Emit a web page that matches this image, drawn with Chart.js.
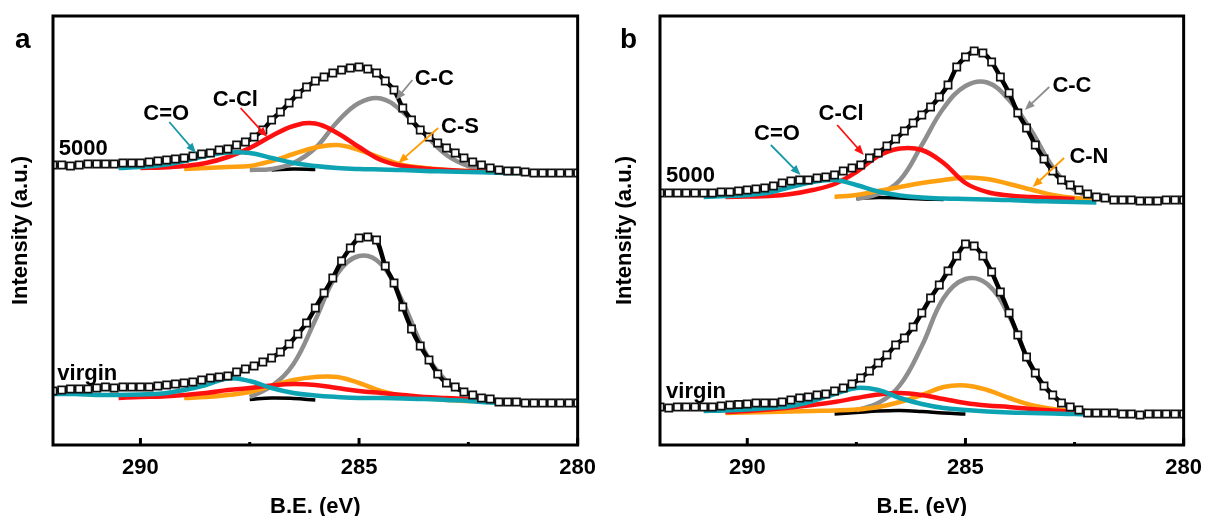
<!DOCTYPE html>
<html>
<head>
<meta charset="utf-8">
<script src="https://cdn.jsdelivr.net/npm/chart.js@4.4.1/dist/chart.umd.min.js"></script>
<style>
  html, body { margin: 0; padding: 0; background: #fff; }
  #wrap { position: relative; width: 1212px; height: 516px; }
  .panel { position: absolute; top: 0; width: 606px; height: 516px; }
</style>
</head>
<body>
<div id="wrap">
  <div class="panel" style="left:0"><canvas id="chart-a"></canvas></div>
  <div class="panel" style="left:606px"><canvas id="chart-b"></canvas></div>
</div>
<script>
// binding energy of the measured points (eV)
const energy = [292.0, 291.8, 291.6, 291.4, 291.2, 291.0, 290.8, 290.6, 290.4, 290.2,
  290.0, 289.8, 289.6, 289.4, 289.2, 289.0, 288.8, 288.6, 288.4, 288.2,
  288.0, 287.8, 287.6, 287.4, 287.2, 287.0, 286.8, 286.6, 286.4, 286.2,
  286.0, 285.8, 285.6, 285.4, 285.2, 285.0, 284.8, 284.6, 284.4, 284.2,
  284.0, 283.8, 283.6, 283.4, 283.2, 283.0, 282.8, 282.6, 282.4, 282.2,
  282.0, 281.8, 281.6, 281.4, 281.2, 281.0, 280.8, 280.6, 280.4, 280.2, 280.0]

// energy grid of the fitted components (eV)
const compEnergy = [292, 291.5, 291, 290.5, 290, 289.5, 289, 288.5, 288, 287.5,
  287, 286.5, 286, 285.5, 285, 284.5, 284, 283.5, 283, 282.5,
  282, 281.5, 281, 280.5, 280]

const xTickValues = [290, 285, 280]
const xMinorTicks = [287.5, 282.5]

// panel a, 5000 cycles (offset intensity, a.u.)
const a5000Data = [280, 280, 279, 280, 281, 281, 281, 281, 282, 282,
  282, 283, 284, 285, 286, 287, 289, 291, 292, 295,
  296, 300, 303, 308, 315, 325, 333, 342, 351, 358,
  364, 368, 372, 375, 377, 378, 376, 372, 364, 355,
  337, 325, 315, 308, 302, 297, 292, 287, 283, 280,
  277, 275, 274, 274, 273, 272, 272, 272, 272, 272, 272]
const a5000CO = [null, null, null, 277, 278, 280, 284, 289, 292.5, 292, 287, 282, 279, 277, 276, 275.5, 275, 274, 273.5, 273, 272.5, 272, 272, null, null]
const a5000CCl = [null, null, null, null, 277, 277.5, 279, 282, 288, 297, 309, 319, 321.5, 312, 298, 285, 279, 276.5, 275, 274, 273, null, null, null, null]
const a5000CS = [null, null, null, null, null, null, 276, 277, 278, 279, 284, 291, 297.5, 300, 295, 287, 280, 277, 275, 274, 273, null, null, null, null]
const a5000CC = [null, null, null, null, null, null, null, null, null, 275, 276, 282, 297, 323, 342, 346.5, 333, 311, 290, 279, 275, 273, null, null, null]
const a5000Bg = [null, null, null, null, null, null, null, null, null, null, 275, 276, 275.5, null, null, null, null, null, null, null, null, null, null, null, null]

// panel a, virgin
const aVirginData = [54, 55, 56, 56, 56, 57, 58, 57, 58, 58,
  58, 58, 59, 60, 61, 62, 63, 65, 67, 68,
  69, 73, 76, 79, 83, 87, 93, 101, 111, 122,
  137, 152, 167, 184, 197, 207, 208, 205, 179, 162,
  138, 116, 99, 85, 71, 62, 58, 53, 50, 47,
  46, 43, 43, 43, 42, 42, 42, 42, 42, 42, 42]
const aVirginCO = [51, 51, 50, 50, 50.5, 51.5, 55, 60, 66.5, 64, 57, 52, 49.5, 48, 47, 47, 46.5, 46, 45, 44, 42.5, 42, null, null, null]
const aVirginCCl = [null, null, null, 47, 48, 48.5, 50, 52, 55, 57, 59.5, 61, 60, 57, 54, 52, 50, 48, 47, 46, 45, null, null, null, null]
const aVirginCS = [null, null, null, null, null, null, 47, 48, 50, 53, 59, 65, 68, 68, 62, 54, 49, 47, 45, 44, 43, null, null, null, null]
const aVirginCC = [null, null, null, null, null, null, null, null, null, 48, 59, 81, 125, 171, 189, 181, 143, 94, 64, 51, 46, 44, null, null, null]
const aVirginBg = [null, null, null, null, null, null, null, null, null, 45.5, 47, 46.5, 45, null, null, null, null, null, null, null, null, null, null, null, null]

// panel b, 5000 cycles
const b5000Data = [252, 252, 252, 252, 252, 252, 252, 253, 253, 254,
  255, 256, 257, 259, 262, 264, 265, 265, 267, 268,
  270, 274, 277, 280, 287, 292, 299, 306, 314, 322,
  330, 338, 348, 360, 378, 388, 394, 392, 383, 368,
  352, 332, 317, 300, 286, 274, 265, 260, 255, 251,
  248, 247, 245, 245, 245, 244, 244, 244, 245, 245, 245]
const b5000CO = [null, null, 248, 249, 250, 252.5, 258, 263, 265, 260, 253.5, 249.5, 247.5, 246.5, 246, 245.5, 245, 244, 243.5, 243, 242.5, null, null, null, null]
const b5000CCl = [null, null, null, 248, 248.5, 249, 251, 255, 261, 273, 289, 296.5, 295, 282, 262, 253, 249.5, 248, 247, 246, null, null, null, null, null]
const b5000CN = [null, null, null, null, null, null, null, null, 248, 250, 254, 258, 262, 265, 267.5, 266, 261, 255.5, 250, 247, 246, null, null, null, null]
const b5000CC = [null, null, null, null, null, null, null, null, null, 246, 251, 265, 300, 337, 359, 362.5, 345, 315, 278, 255, 247, 244, null, null, null]
const b5000Bg = [null, null, null, null, null, null, null, null, null, 246.5, 247.5, 247, 246, 245.5, null, null, null, null, null, null, null, null, null, null, null]

// panel b, virgin
const bVirginData = [38, 37, 38, 38, 38, 38, 38, 39, 40, 40.5,
  41, 42, 42, 42, 43, 45, 47, 48, 50, 51,
  54, 57, 61, 67, 74, 82, 90, 100, 107, 118,
  132, 147, 160, 174, 189, 201, 199, 189, 173, 153,
  132, 110, 88, 72, 59, 50, 42, 38, 35, 32,
  32, 32, 32, 31, 31, 30, 31, 31, 31, 31, 31]
const bVirginCO = [null, null, 34, 34.5, 35.5, 37, 39, 44, 51, 57, 55, 47, 41, 37, 35, 33.5, 32.5, 32, 31.5, 31, 30, null, null, null, null]
const bVirginCCl = [null, null, null, 33, 34, 35.5, 37.5, 40, 43, 47, 50.5, 52, 50, 46, 42, 39.5, 38, 36, 34.5, 33, null, null, null, null, null]
const bVirginCN = [null, null, null, 32, 32.5, 33, 33.5, 34, 34.5, 35.5, 38, 43, 50, 58, 59.5, 55, 47, 40, 36, 34, 33, null, null, null, null]
const bVirginCC = [null, null, null, null, null, null, null, null, null, 35, 42, 60, 99, 147, 166, 161, 129, 80, 50, 37, 33, 32, null, null, null]
const bVirginBg = [null, null, null, null, null, null, null, null, 31, 32.5, 34, 34.5, 33.5, 32, 31, null, null, null, null, null, null, null, null, null, null]

const FONT = "'Liberation Sans', Arial, sans-serif"
const TEAL = "#0ea3b3", RED = "#ff1010", ORANGE = "#ffa010", GRAY = "#8e8e8e"

function pairs(xs, ys) {
  return xs.map((x, i) => ({ x: x, y: ys[i] }))
}

function measured(ys) {
  return {
    data: pairs(energy, ys),
    showLine: false,
    pointStyle: "rect",
    pointRadius: 5.1,
    pointBorderWidth: 1.7,
    pointBorderColor: "#111",
    pointBackgroundColor: "#fff",
  }
}

function fitLine(ys) {
  return { data: pairs(energy, ys), borderColor: "#000", borderWidth: 4.5, pointRadius: 0, tension: 0.3 }
}

function comp(ys, color, width) {
  return { data: pairs(compEnergy, ys), borderColor: color, borderWidth: width || 4.5, pointRadius: 0, tension: 0.4 }
}

// one spectrum: points on top, then fit, then components
function spectrum(s) {
  return [
    measured(s.data),
    fitLine(s.data),
    comp(s.co, TEAL),
    comp(s.ccl, RED),
    comp(s.third, ORANGE),
    comp(s.cc, GRAY),
    comp(s.bg, "#000", 3.5),
  ]
}

function arrow(ctx, x1, y1, x2, y2, color) {
  const ang = Math.atan2(y2 - y1, x2 - x1)
  const head = 10, half = 4
  ctx.strokeStyle = color
  ctx.fillStyle = color
  ctx.lineWidth = 1.8
  ctx.beginPath()
  ctx.moveTo(x1, y1)
  ctx.lineTo(x2 - Math.cos(ang) * head * 0.7, y2 - Math.sin(ang) * head * 0.7)
  ctx.stroke()
  ctx.beginPath()
  ctx.moveTo(x2, y2)
  ctx.lineTo(x2 - head * Math.cos(ang) + half * Math.sin(ang), y2 - head * Math.sin(ang) - half * Math.cos(ang))
  ctx.lineTo(x2 - head * Math.cos(ang) - half * Math.sin(ang), y2 - head * Math.sin(ang) + half * Math.cos(ang))
  ctx.closePath()
  ctx.fill()
}

// frame, inward ticks, panel letter, sample names and peak labels
const decor = {
  id: "decor",
  afterDraw(chart, args, opts) {
    const { ctx, chartArea: a, scales: { x, y } } = chart
    ctx.save()
    ctx.strokeStyle = "#000"
    ctx.lineWidth = 3
    ctx.strokeRect(a.left, a.top, a.right - a.left, a.bottom - a.top)
    xTickValues.concat(xMinorTicks).forEach((v) => {
      const px = x.getPixelForValue(v)
      const len = xTickValues.includes(v) ? 7 : 3
      ctx.beginPath()
      ctx.moveTo(px, a.bottom)
      ctx.lineTo(px, a.bottom - len)
      ctx.stroke()
    })

    ctx.fillStyle = "#000"
    ctx.font = "bold 28px " + FONT
    ctx.textAlign = "left"
    ctx.textBaseline = "alphabetic"
    ctx.fillText(opts.letter, opts.letterX, 48)

    ctx.font = "bold 22px " + FONT
    opts.samples.forEach((s) => {
      ctx.fillStyle = "#000"
      ctx.textAlign = "left"
      ctx.fillText(s.text, x.getPixelForValue(s.at[0]), y.getPixelForValue(s.at[1]))
    })
    opts.notes.forEach((n) => {
      arrow(ctx, x.getPixelForValue(n.from[0]), y.getPixelForValue(n.from[1]),
        x.getPixelForValue(n.to[0]), y.getPixelForValue(n.to[1]), n.color)
      ctx.fillStyle = "#000"
      ctx.textAlign = "center"
      ctx.fillText(n.text, x.getPixelForValue(n.at[0]), y.getPixelForValue(n.at[1]))
    })
    ctx.restore()
  },
}

function makeChart(id, top, bottom, deco, yWidth, padRight, titlePad) {
  return new Chart(document.getElementById(id), {
    type: "line",
    data: { datasets: spectrum(top).concat(spectrum(bottom)) },
    options: {
      responsive: true,
      maintainAspectRatio: false,
      animation: false,
      layout: { padding: { top: 16, right: padRight, bottom: 0, left: 0 } },
      scales: {
        x: {
          type: "linear",
          reverse: true,
          min: 280,
          max: 292,
          afterBuildTicks: (s) => {
            s.ticks = xTickValues.map((v) => ({ value: v }))
          },
          afterFit: (s) => {
            s.height = 71
          },
          grid: { display: false, drawTicks: false },
          border: { display: false },
          ticks: { color: "#000", padding: 10, font: { family: FONT, size: 22, weight: "bold" } },
          title: {
            display: true,
            text: "B.E. (eV)",
            color: "#000",
            padding: { top: 0, bottom: -4 },
            font: { family: FONT, size: 22, weight: "bold" },
          },
        },
        y: {
          min: 0,
          max: 429,
          afterFit: (s) => {
            s.width = yWidth
          },
          grid: { display: false, drawTicks: false },
          border: { display: false },
          ticks: { display: false },
          title: {
            display: true,
            text: "Intensity (a.u.)",
            color: "#000",
            padding: { top: titlePad, bottom: 0 },
            font: { family: FONT, size: 22, weight: "bold" },
          },
        },
      },
      plugins: {
        legend: { display: false },
        tooltip: { enabled: false },
        decor: deco,
      },
    },
    plugins: [decor],
  })
}

makeChart("chart-a",
  { data: a5000Data, co: a5000CO, ccl: a5000CCl, third: a5000CS, cc: a5000CC, bg: a5000Bg },
  { data: aVirginData, co: aVirginCO, ccl: aVirginCCl, third: aVirginCS, cc: aVirginCC, bg: aVirginBg },
  {
    letter: "a", letterX: 15,
    samples: [{ text: "5000", at: [291.87, 290] }, { text: "virgin", at: [291.9, 65] }],
    notes: [
      { text: "C=O", color: "#1898a8", at: [289.41, 325], from: [289.34, 323], to: [288.73, 292] },
      { text: "C-Cl", color: RED, at: [287.83, 339], from: [287.71, 337], to: [287.10, 308] },
      { text: "C-C", color: GRAY, at: [283.28, 360], from: [283.78, 365], to: [284.16, 345] },
      { text: "C-S", color: "#ff9a00", at: [282.69, 312], from: [283.19, 317], to: [284.10, 282] },
    ],
  }, 53, 22, 8)

makeChart("chart-b",
  { data: b5000Data, co: b5000CO, ccl: b5000CCl, third: b5000CN, cc: b5000CC, bg: b5000Bg },
  { data: bVirginData, co: bVirginCO, ccl: bVirginCCl, third: bVirginCN, cc: bVirginCC, bg: bVirginBg },
  {
    letter: "b", letterX: 14,
    samples: [{ text: "5000", at: [291.86, 263] }, { text: "virgin", at: [291.86, 47] }],
    notes: [
      { text: "C=O", color: "#1898a8", at: [289.32, 305], from: [289.46, 300], to: [288.78, 270] },
      { text: "C-Cl", color: RED, at: [287.85, 325], from: [287.94, 320], to: [287.33, 290] },
      { text: "C-C", color: GRAY, at: [282.56, 353], from: [283.08, 358], to: [283.64, 335] },
      { text: "C-N", color: "#ff9a00", at: [282.17, 282], from: [282.74, 287], to: [283.46, 258] },
    ],
  }, 54, 20, 6)
</script>
</body>
</html>
